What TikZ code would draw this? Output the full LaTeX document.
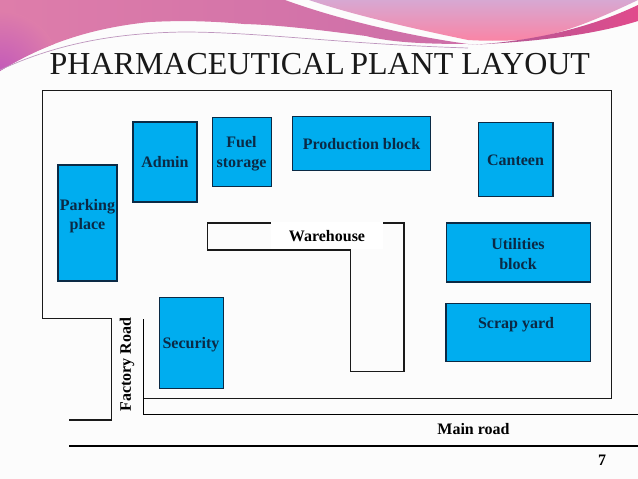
\documentclass[tikz,border=0pt]{standalone}
\usepackage{fontspec}
\setmainfont{Liberation Serif}
\definecolor{blk}{HTML}{00ADEF}
\definecolor{inkc}{HTML}{0B2A45}
\definecolor{linec}{HTML}{1A1A1A}
\tikzset{
  blockbox/.style={draw=inkc,line width=1.1pt,fill=blk,inner sep=0pt,align=center,font=\bfseries\fontsize{16}{19.5}\selectfont,text=inkc},
  blocklabel/.style={inner sep=0pt,align=center,font=\bfseries\fontsize{16}{19.5}\selectfont,text=inkc},
  plainlabel/.style={inner sep=0pt,align=center,font=\bfseries\fontsize{16}{18}\selectfont,text=black},
  wall/.style={draw=linec,line width=1.2pt,line join=miter},
  road/.style={draw=black,line width=1.1pt}
}
\newcommand{\blockat}[6]{\node[blockbox,minimum width=#3pt-#1pt,minimum height=#4pt-#2pt] (#5) at ({(#1+#3)/2},{(#2+#4)/2}) {#6};}
\begin{document}
\begin{tikzpicture}[x=1pt,y=-1pt]
\useasboundingbox (0,0) rectangle (638,479);
\fill[white!99!black] (0,0) rectangle (638,479);
% header swooshes
\shade[left color={rgb,255:red,222;green,125;blue,170}, middle color={rgb,255:red,226;green,132;blue,160}, right color={rgb,255:red,205;green,110;blue,168}]
  (0,0) -- (285,0) .. controls (340,20) and (410,36) .. (468,44)
  .. controls (420,44) and (390,42) .. (366,36)
  .. controls (320,30) and (280,25) .. (244,24)
  .. controls (200,20) and (170,21) .. (150,22)
  .. controls (100,27) and (50,40) .. (0,71) -- cycle;
\begin{scope}
  \clip (0,0) -- (150,0) -- (150,22) .. controls (100,27) and (50,40) .. (0,71) -- cycle;
  \shade[inner color={rgb,255:red,195;green,90;blue,185}, outer color={rgb,255:red,222;green,125;blue,170}] (0,71) circle (60);
\end{scope}
\shade[top color={rgb,255:red,215;green,168;blue,210}, bottom color={rgb,255:red,250;green,132;blue,165}]
  (309,0) -- (638,0) .. controls (600,18) and (560,36) .. (520,40)
  .. controls (500,41) and (485,41) .. (468,40)
  .. controls (410,28) and (350,14) .. (309,0) -- cycle;
\shade[left color={rgb,255:red,170;green,90;blue,150}, right color={rgb,255:red,225;green,75;blue,140}]
  (468,45) .. controls (530,42) and (590,28) .. (638,5) -- (638,21) .. controls (590,36) and (530,42) .. (468,45) -- cycle;
\draw[color={rgb,255:red,190;green,150;blue,190},line width=.7pt]
  (0,70) .. controls (60,42) and (120,33) .. (183,32) .. controls (260,32) and (340,44) .. (468,48);
% title
\node[inner sep=0pt,anchor=base west,font=\fontsize{32}{36}\selectfont,text=black!90] (title) at (49.5,74) {PHARMACEUTICAL\hspace{-2.5pt} PLANT LAYOUT};
% site boundary
\draw[wall] (111.5,420) -- (69,420);
\draw[wall] (143.5,398.3) -- (611.5,398.3) -- (611.5,90.3) -- (42.7,90.3) -- (42.7,318.7) -- (111.7,318.7) -- (111.7,420);
\draw[road] (143.3,319) -- (143.3,414.7) -- (638,414.7);
\draw[road] (69,446) -- (638,446);
% warehouse
\draw[wall] (207.3,223) -- (404,223) -- (404,371.7) -- (350.7,371.7) -- (350.7,250) -- (207.3,250) -- cycle;
\fill[white] (271,222) rectangle (382.7,249);
\node[plainlabel] (warehouse) at (327,236.5) {Warehouse};
% blocks
\blockat{58}{165}{117}{281}{parking}{}
\node[blocklabel] (parkinglabel) at (87.5,216) {Parking\\place};
\blockat{133}{122}{197}{202}{admin}{}
\node[blocklabel] (adminlabel) at (165,162.5) {Admin};
\blockat{212.3}{117.3}{271.7}{186.3}{fuel}{}
\node[blocklabel] (fuellabel) at (241.5,153.5) {Fuel\\storage};
\blockat{292.3}{116.7}{430.7}{170.3}{production}{}
\node[blocklabel] (productionlabel) at (361.5,144) {Production block};
\blockat{478.3}{122.3}{553}{196.7}{canteen}{}
\node[blocklabel] (canteenlabel) at (515.5,160) {Canteen};
\blockat{446.3}{223}{590.5}{282}{utilities}{}
\node[blocklabel] (utilitieslabel) at (518,254) {Utilities\\block};
\blockat{446}{303.3}{590.7}{361.3}{scrap}{}
\node[blocklabel] (scraplabel) at (516,324.5) {Scrap yard};
\blockat{159.3}{297.7}{223.3}{388.3}{security}{}
\node[blocklabel] (securitylabel) at (191,345) {Security};
% road labels
\node[plainlabel,rotate=90] (factory) at (127,364.5) {Factory Road};
\node[plainlabel] (mainroad) at (473.5,429) {Main road};
\node[plainlabel] (pagenum) at (602,460) {7};
\end{tikzpicture}
\end{document}
